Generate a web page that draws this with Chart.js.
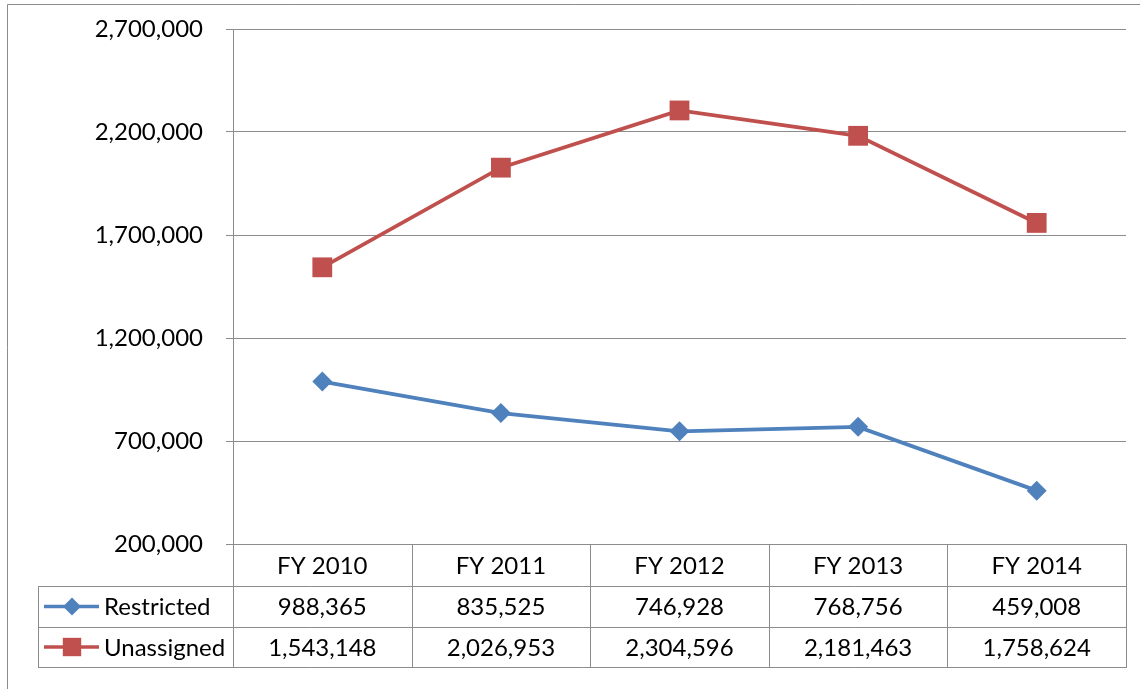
<!DOCTYPE html>
<html>
<head>
<meta charset="utf-8">
<script src="https://cdn.jsdelivr.net/npm/chart.js@4.4.1/dist/chart.umd.min.js"></script>
<style>
    html, body { margin: 0; padding: 0; background: #fff; }
    #wrap { width: 1140px; height: 689px; position: relative; }
</style>
</head>
<body>
<div id="wrap"><canvas id="chart" width="1140" height="689"></canvas></div>
<script>
const categories = ['FY 2010', 'FY 2011', 'FY 2012', 'FY 2013', 'FY 2014'];
const restricted = [988365, 835525, 746928, 768756, 459008];
const unassigned = [1543148, 2026953, 2304596, 2181463, 1758624];
const yTicks = [200000, 700000, 1200000, 1700000, 2200000, 2700000];

const blue = '#4F81BD';
const red = '#C0504D';
const gridColor = '#8c8c8c';
const font = 'Lato, "Open Sans", sans-serif';
const fontSize = 24;

const fmt = v => v.toLocaleString('en-US');

// data table drawn under the plot area, like Excel does
const dataTable = {
    id: 'dataTable',
    afterDraw(chart) {
        const { ctx, chartArea, scales } = chart;
        const x = scales.x;
        const left = chartArea.left;
        const right = chartArea.right;
        const step = (right - left) / categories.length;
        const tableLeft = 38;
        const rows = [chartArea.bottom, 586, 627, 667];

        ctx.save();
        ctx.strokeStyle = gridColor;
        ctx.lineWidth = 1;

        // outer chart border (only left and top are inside the picture)
        ctx.beginPath();
        ctx.moveTo(7.5, 700);
        ctx.lineTo(7.5, 4.5);
        ctx.lineTo(1150, 4.5);
        ctx.stroke();

        ctx.beginPath();
        for (let i = 0; i <= categories.length; i++) {
            const px = Math.round(left + step * i) + 0.5;
            ctx.moveTo(px, rows[0]);
            ctx.lineTo(px, rows[3]);
        }
        for (let r = 1; r < rows.length; r++) {
            ctx.moveTo(tableLeft, rows[r] + 0.5);
            ctx.lineTo(right + 1, rows[r] + 0.5);
        }
        ctx.moveTo(tableLeft + 0.5, rows[1]);
        ctx.lineTo(tableLeft + 0.5, rows[3]);
        ctx.stroke();

        ctx.fillStyle = '#000';
        ctx.font = `${fontSize}px ${font}`;
        ctx.textBaseline = 'middle';
        ctx.textAlign = 'center';
        const series = [restricted, unassigned];
        categories.forEach((c, i) => {
            const cx = x.getPixelForValue(i);
            ctx.fillText(c, cx, (rows[0] + rows[1]) / 2 + 1);
            series.forEach((s, j) => {
                ctx.fillText(fmt(s[i]), cx, (rows[j + 1] + rows[j + 2]) / 2 + 1);
            });
        });

        // legend keys
        chart.data.datasets.forEach((ds, j) => {
            const cy = (rows[j + 1] + rows[j + 2]) / 2;
            ctx.strokeStyle = ds.borderColor;
            ctx.lineWidth = 3.5;
            ctx.beginPath();
            ctx.moveTo(44, cy);
            ctx.lineTo(99, cy);
            ctx.stroke();
            ctx.fillStyle = ds.borderColor;
            Chart.helpers.drawPoint(ctx, {
                pointStyle: ds.pointStyle,
                radius: ds.pointStyle === 'rect' ? 13 : 9,
                borderWidth: 0
            }, 72, cy);
            ctx.fillStyle = '#000';
            ctx.textAlign = 'left';
            ctx.fillText(ds.label, 104, cy + 1);
        });
        ctx.restore();
    }
};

const data = {
    labels: categories,
    datasets: [{
        label: 'Restricted',
        data: restricted,
        borderColor: blue,
        backgroundColor: blue,
        borderWidth: 3.8,
        pointStyle: 'rectRot',
        pointRadius: 10,
        pointBorderWidth: 0,
        tension: 0
    }, {
        label: 'Unassigned',
        data: unassigned,
        borderColor: red,
        backgroundColor: red,
        borderWidth: 3.8,
        pointStyle: 'rect',
        pointRadius: 14,
        pointBorderWidth: 0,
        tension: 0
    }]
};

const config = {
    type: 'line',
    data,
    options: {
        responsive: false,
        animation: false,
        layout: {
            padding: { top: 29, right: 11, left: 0, bottom: 0 }
        },
        scales: {
            x: {
                offset: true,
                grid: { display: false },
                border: { display: false },
                ticks: { display: false },
                afterFit(scale) { scale.height = 689 - 544; }
            },
            y: {
                min: yTicks[0],
                max: yTicks[yTicks.length - 1],
                afterBuildTicks(scale) {
                    scale.ticks = yTicks.map(v => ({ value: v }));
                },
                afterFit(scale) {
                    scale.width = 233;
                    scale.paddingTop = 0;
                    scale.paddingBottom = 0;
                },
                grid: {
                    color: gridColor,
                    tickLength: 7,
                    tickColor: gridColor
                },
                border: { color: gridColor },
                ticks: {
                    color: '#000',
                    padding: 23,
                    font: { family: font, size: fontSize },
                    callback: v => fmt(v)
                }
            }
        },
        plugins: {
            legend: false,
            tooltip: { enabled: false }
        }
    },
    plugins: [dataTable]
};

const myChart = new Chart(document.getElementById('chart'), config);
</script>
</body>
</html>
